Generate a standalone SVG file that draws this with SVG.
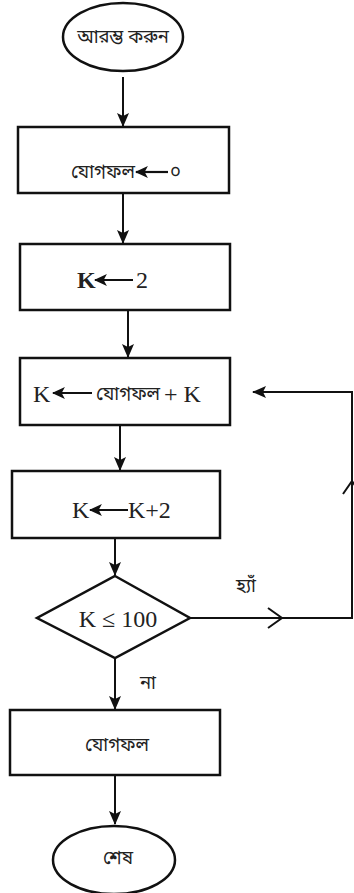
<svg xmlns="http://www.w3.org/2000/svg" width="354" height="893" viewBox="0 0 354 893">
  <defs>
    <marker id="head" markerUnits="userSpaceOnUse" markerWidth="14" markerHeight="14" viewBox="0 0 14 14" refX="13" refY="7" orient="auto">
      <path d="M0,1 L14,7 L0,13 L3,7 Z" fill="#111"/>
    </marker>
    <marker id="tiny" markerUnits="userSpaceOnUse" markerWidth="13" markerHeight="13" viewBox="0 0 12 12" refX="11" refY="6" orient="auto">
      <path d="M0,0.5 L12,6 L0,11.5 L3,6 Z" fill="#111"/>
    </marker>
    <style>
      .shape { fill: #fff; stroke: #111; stroke-width: 2.5; }
      .edge { fill: none; stroke: #111; stroke-width: 2; }
      .chev { fill: none; stroke: #111; stroke-width: 2; }
      .op { fill: none; stroke: #111; stroke-width: 2.2; marker-end: url(#tiny); }
      .lat { font-family: "Liberation Serif", "Times New Roman", serif; font-size: 24px; fill: #222; }
      .bn { font-family: "Noto Sans Bengali", "Noto Serif Bengali", "Lohit Bengali", "Noto Sans", sans-serif; font-size: 18.5px; fill: #222; }
    </style>
  </defs>

  <!-- connectors -->
  <g id="connectors">
    <line class="edge" x1="123" y1="77" x2="123" y2="126" marker-end="url(#head)"/>
    <line class="edge" x1="123" y1="193" x2="123" y2="243" marker-end="url(#head)"/>
    <line class="edge" x1="128" y1="310" x2="128" y2="357" marker-end="url(#head)"/>
    <line class="edge" x1="120" y1="425" x2="120" y2="470" marker-end="url(#head)"/>
    <line class="edge" x1="115" y1="530" x2="115" y2="575" marker-end="url(#head)"/>
    <line class="edge" x1="115" y1="658" x2="115" y2="709" marker-end="url(#head)"/>
    <line class="edge" x1="115" y1="775" x2="115" y2="824" marker-end="url(#head)"/>
    <!-- yes loop back to the accumulation step -->
    <path class="edge" d="M190,618 H352 V392 H253" marker-end="url(#head)"/>
    <path class="chev" d="M268,608 L282,618 L268,628"/>
    <path class="chev" d="M343,494 L352,481 L361,494"/>
  </g>

  <!-- start -->
  <g id="start">
    <ellipse class="shape" cx="123" cy="37" rx="60" ry="34"/>
    <text class="bn" x="123" y="43" text-anchor="middle">আরম্ভ করুন</text>
  </g>

  <!-- sum <- 0 -->
  <g id="init-sum">
    <rect class="shape" x="18" y="127" width="211" height="66"/>
    <text class="bn" x="135" y="178" text-anchor="end">যোগফল</text>
    <line class="op" x1="168" y1="172" x2="136" y2="172"/>
    <text class="bn" x="170" y="178">০</text>
  </g>

  <!-- K <- 2 -->
  <g id="init-k">
    <rect class="shape" x="20" y="244" width="210" height="66"/>
    <text class="lat" x="77" y="288" font-weight="bold">K</text>
    <line class="op" x1="133" y1="280" x2="95" y2="280"/>
    <text class="lat" x="136" y="288">2</text>
  </g>

  <!-- K <- sum + K -->
  <g id="accumulate">
    <rect class="shape" x="20" y="358" width="210" height="67"/>
    <text class="lat" x="33" y="402">K</text>
    <line class="op" x1="92" y1="393" x2="53" y2="393"/>
    <text class="bn" x="96" y="400">যোগফল</text>
    <text class="lat" x="164" y="402">+ K</text>
  </g>

  <!-- K <- K + 2 -->
  <g id="increment">
    <rect class="shape" x="12" y="471" width="208" height="67"/>
    <text class="lat" x="72" y="518">K</text>
    <line class="op" x1="128" y1="510" x2="90" y2="510"/>
    <text class="lat" x="128" y="518">K+2</text>
  </g>

  <!-- K <= 100 ? -->
  <g id="decision">
    <polygon class="shape" points="115,576 190,618 115,658 37,618"/>
    <text class="lat" x="118" y="627" text-anchor="middle">K ≤ 100</text>
    <text class="bn" x="246" y="592" text-anchor="middle">হ্যাঁ</text>
    <text class="bn" x="148" y="689" text-anchor="middle">না</text>
  </g>

  <!-- output sum -->
  <g id="output">
    <rect class="shape" x="10" y="710" width="210" height="65"/>
    <text class="bn" x="117" y="751" text-anchor="middle">যোগফল</text>
  </g>

  <!-- end -->
  <g id="end">
    <ellipse class="shape" cx="114" cy="860" rx="61" ry="34"/>
    <text class="bn" x="118" y="864" text-anchor="middle">শেষ</text>
  </g>
</svg>
